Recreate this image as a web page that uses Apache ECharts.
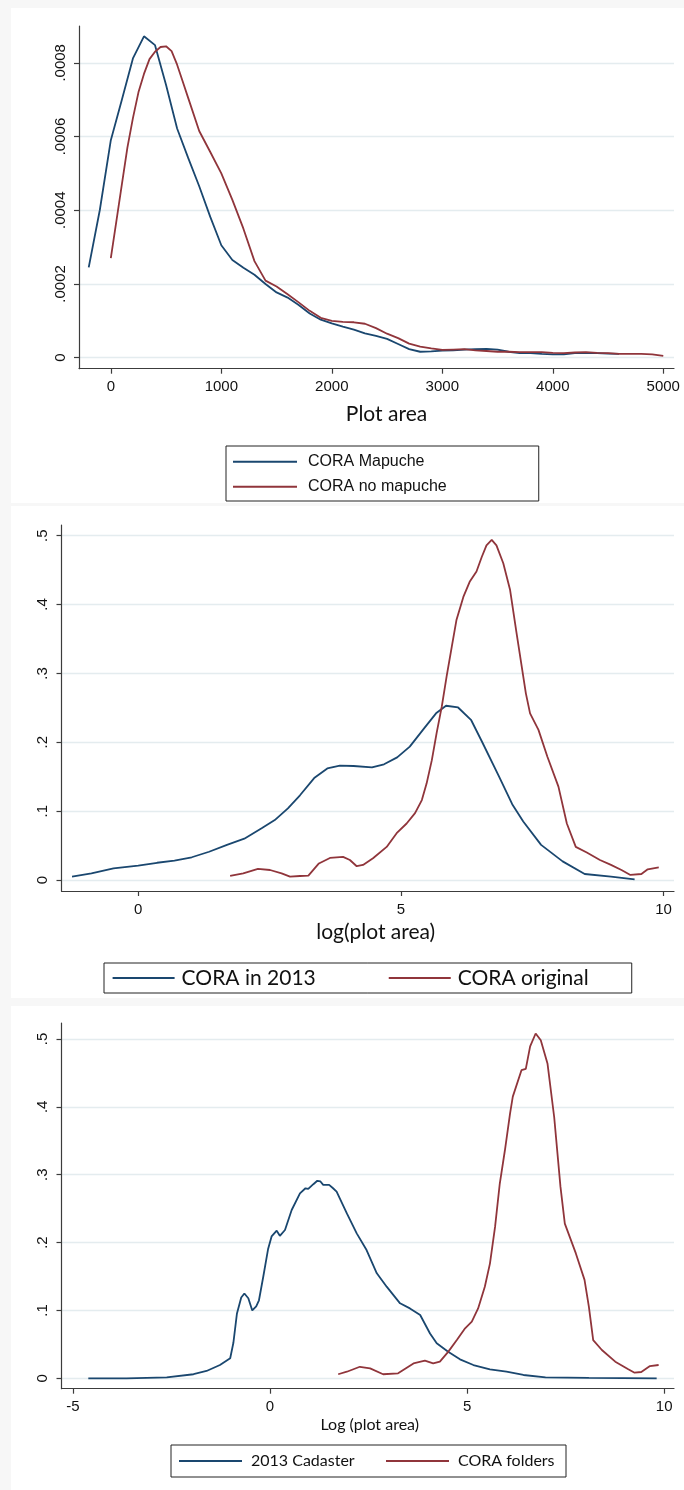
<!DOCTYPE html>
<html>
<head>
<meta charset="utf-8">
<script src="https://cdn.jsdelivr.net/npm/echarts@6/dist/echarts.min.js"></script>
<style>
html, body { margin: 0; padding: 0; background: #f7f7f7; }
#main { width: 684px; height: 1490px; }
</style>
</head>
<body>
<div id="main"></div>
<script>
// panel 1: kernel density of plot area
const coraMapuche = [
	[-200, 0.000245], [-100, 0.00040], [0, 0.000590], [100, 0.000700], [200, 0.000812],
	[300, 0.000872], [400, 0.000848], [500, 0.000740], [600, 0.000622], [700, 0.000542],
	[800, 0.000465], [900, 0.000382], [1000, 0.000305], [1100, 0.000265], [1200, 0.000244],
	[1300, 0.000225], [1400, 0.000200], [1500, 0.000177], [1600, 0.000163], [1700, 0.000143],
	[1800, 0.000120], [1900, 0.000103], [2000, 0.000093], [2100, 0.000084], [2200, 0.000076],
	[2300, 0.000066], [2400, 0.000059], [2500, 0.000051], [2600, 0.000037], [2700, 0.000023],
	[2800, 0.000016], [2900, 0.000017], [3000, 0.000019], [3100, 0.000020], [3200, 0.000022],
	[3300, 0.000023], [3400, 0.000024], [3500, 0.000022], [3600, 0.000016], [3700, 0.000012],
	[3800, 0.000012], [3900, 0.000010], [4000, 0.000009], [4100, 0.000009], [4200, 0.000012],
	[4300, 0.000012], [4400, 0.000012], [4500, 0.000011], [4600, 0.000010]
];
const coraNoMapuche = [
	[0, 0.00027], [50, 0.00037], [100, 0.00047], [150, 0.00057], [200, 0.00065], [250, 0.00072],
	[300, 0.00077], [350, 0.00081], [400, 0.00083], [450, 0.000843], [500, 0.000845], [550, 0.000832],
	[600, 0.000795], [650, 0.00075], [700, 0.000705], [800, 0.000615], [900, 0.000558],
	[1000, 0.0005], [1100, 0.000428], [1200, 0.00035], [1300, 0.000262], [1400, 0.000209],
	[1500, 0.000193], [1600, 0.000172], [1700, 0.00015], [1800, 0.000127], [1900, 0.000108],
	[2000, 0.0001], [2100, 0.000097], [2200, 0.000096], [2300, 0.000092], [2400, 0.00008],
	[2500, 0.000065], [2600, 0.000053], [2700, 0.000038], [2800, 0.00003], [2900, 0.000025],
	[3000, 0.000021], [3100, 0.000022], [3200, 0.000023], [3300, 0.00002], [3400, 0.000018],
	[3500, 0.000016], [3600, 0.000016], [3700, 0.000015], [3800, 0.000015], [3900, 0.000015],
	[4000, 0.000013], [4100, 0.000012], [4200, 0.000014], [4300, 0.000015], [4400, 0.000013],
	[4500, 0.000012], [4600, 0.00001], [4700, 0.00001], [4800, 0.00001], [4900, 0.000009],
	[5000, 0.000005]
];

// panel 2: log(plot area)
const coraIn2013 = [
	[-1.26, 0.005], [-0.89, 0.0097], [-0.47, 0.017], [0, 0.021], [0.36, 0.025], [0.69, 0.028],
	[1.02, 0.033], [1.35, 0.041], [1.69, 0.051], [2.02, 0.06], [2.35, 0.075], [2.6, 0.087],
	[2.85, 0.104], [3.08, 0.123], [3.35, 0.148], [3.6, 0.162], [3.84, 0.166], [4.1, 0.1655],
	[4.45, 0.1636], [4.68, 0.168], [4.93, 0.178], [5.17, 0.1936], [5.42, 0.218], [5.67, 0.242],
	[5.86, 0.253], [6.09, 0.2505], [6.34, 0.232], [6.55, 0.2], [6.87, 0.15], [7.12, 0.11],
	[7.33, 0.085], [7.67, 0.051], [8.08, 0.027], [8.5, 0.0087], [9.0, 0.0048], [9.45, 0.001]
];
const coraOriginal = [
	[1.75, 0.0058], [2.0, 0.0097], [2.28, 0.016], [2.51, 0.0145], [2.73, 0.0097], [2.89, 0.005],
	[3.08, 0.0058], [3.24, 0.0063], [3.44, 0.024], [3.65, 0.032], [3.9, 0.0335], [4.03, 0.029],
	[4.16, 0.02], [4.28, 0.0218], [4.47, 0.0315], [4.73, 0.048], [4.92, 0.068], [5.11, 0.082],
	[5.27, 0.097], [5.4, 0.116], [5.49, 0.14], [5.59, 0.174], [5.68, 0.213], [5.78, 0.252],
	[5.87, 0.295], [5.97, 0.339], [6.06, 0.378], [6.19, 0.411], [6.31, 0.433], [6.44, 0.448],
	[6.54, 0.469], [6.63, 0.486], [6.73, 0.494], [6.82, 0.486], [6.95, 0.46], [7.08, 0.421],
	[7.2, 0.36], [7.38, 0.271], [7.46, 0.242], [7.62, 0.218], [7.79, 0.179], [8.0, 0.1355],
	[8.16, 0.082], [8.33, 0.048], [8.54, 0.04], [8.79, 0.029], [9.0, 0.022], [9.2, 0.0145],
	[9.37, 0.0073], [9.58, 0.0087], [9.7, 0.0155], [9.91, 0.0184]
];

// panel 3: Log (plot area), cadaster vs folders
const cadaster2013 = [
	[-4.61, 0.0], [-3.64, 0.0], [-2.62, 0.0015], [-1.94, 0.006], [-1.61, 0.0108], [-1.27, 0.0196],
	[-1.01, 0.0295], [-0.93, 0.052], [-0.84, 0.095], [-0.73, 0.119], [-0.65, 0.125], [-0.55, 0.118],
	[-0.45, 0.1], [-0.35, 0.106], [-0.28, 0.115], [-0.17, 0.15], [-0.05, 0.19], [0.04, 0.209],
	[0.17, 0.2175], [0.25, 0.21], [0.38, 0.2185], [0.55, 0.248], [0.76, 0.2726], [0.9, 0.28],
	[0.97, 0.279], [1.1, 0.286], [1.2, 0.291], [1.28, 0.29], [1.35, 0.285], [1.5, 0.285],
	[1.6, 0.28], [1.69, 0.275], [1.95, 0.243], [2.2, 0.2136], [2.45, 0.189], [2.71, 0.1547],
	[2.96, 0.135], [3.3, 0.1105], [3.55, 0.103], [3.81, 0.0933], [4.06, 0.066], [4.23, 0.0516],
	[4.52, 0.039], [4.82, 0.028], [5.16, 0.0196], [5.58, 0.0133], [6.0, 0.0097], [6.43, 0.0049],
	[6.99, 0.0015], [8.09, 0.0006], [9.81, 0.0]
];
const coraFolders = [
	[1.73, 0.006], [1.95, 0.0097], [2.28, 0.017], [2.54, 0.0147], [2.87, 0.006], [3.25, 0.0074],
	[3.64, 0.022], [3.93, 0.026], [4.14, 0.022], [4.31, 0.0245], [4.52, 0.039], [4.74, 0.0564],
	[4.95, 0.0737], [5.12, 0.0834], [5.28, 0.103], [5.45, 0.135], [5.58, 0.169], [5.71, 0.223],
	[5.83, 0.287], [5.96, 0.336], [6.09, 0.39], [6.16, 0.415], [6.38, 0.454], [6.49, 0.456],
	[6.6, 0.489], [6.74, 0.508], [6.87, 0.498], [7.04, 0.464], [7.21, 0.385], [7.37, 0.282],
	[7.48, 0.228], [7.76, 0.184], [7.98, 0.145], [8.09, 0.1055], [8.2, 0.0564], [8.42, 0.0417],
	[8.76, 0.0245], [9.09, 0.0133], [9.25, 0.0083], [9.42, 0.0093], [9.64, 0.018], [9.86, 0.0196]
];

// tick values and labels
const p1XTicks = [0, 1000, 2000, 3000, 4000, 5000];
const p1XLabels = ["0", "1000", "2000", "3000", "4000", "5000"];
const p1YTicks = [0, 0.0002, 0.0004, 0.0006, 0.0008];
const p1YLabels = ["0", ".0002", ".0004", ".0006", ".0008"];
const p2XTicks = [0, 5, 10];
const p2XLabels = ["0", "5", "10"];
const p3XTicks = [-5, 0, 5, 10];
const p3XLabels = ["-5", "0", "5", "10"];
const densYTicks = [0, 0.1, 0.2, 0.3, 0.4, 0.5];
const densYLabels = ["0", ".1", ".2", ".3", ".4", ".5"];

const navy = "#1a476f";
const maroon = "#90353b";
const axisColor = "#3c3c3c";
const gridColor = "#e4ecef";
const tickFont = "Liberation Sans, Arial, sans-serif";
const titleFont = "Lato, sans-serif";

function pick(ticks, labels) {
	return function (v) {
		for (var i = 0; i < ticks.length; i++) {
			if (Math.abs(ticks[i] - v) < 1e-9) return labels[i];
		}
		return "";
	};
}

function xAxisOf(idx, min, max, ticks, labels, name, gap, size, shift) {
	return {
		type: "value", gridIndex: idx, min: min, max: max,
		axisLine: { show: true, onZero: false, lineStyle: { color: axisColor, width: 1.2 } },
		axisTick: { show: true, length: 5, customValues: ticks, lineStyle: { color: axisColor, width: 1.2 } },
		axisLabel: { customValues: ticks, formatter: pick(ticks, labels), margin: 11,
			fontFamily: tickFont, fontSize: 15, color: "#111" },
		splitLine: { show: false },
		name: name, nameLocation: "middle", nameGap: gap,
		nameTextStyle: { fontFamily: titleFont, fontSize: size, color: "#111", padding: [0, 0, 0, shift] }
	};
}

function yAxisOf(idx, min, max, ticks, labels) {
	return {
		type: "value", gridIndex: idx, min: min, max: max,
		axisLine: { show: true, onZero: false, lineStyle: { color: axisColor, width: 1.2 } },
		axisTick: { show: true, length: 5, customValues: ticks, lineStyle: { color: axisColor, width: 1.2 } },
		axisLabel: { customValues: ticks, formatter: pick(ticks, labels), rotate: 90, margin: 11,
			fontFamily: tickFont, fontSize: 15, color: "#111" },
		splitLine: { show: true, lineStyle: { color: gridColor, width: 1.3 } }
	};
}

function lineOf(name, data, color, idx) {
	return {
		type: "line", name: name, data: data, xAxisIndex: idx, yAxisIndex: idx,
		showSymbol: false, symbol: "none", smooth: false,
		lineStyle: { color: color, width: 1.8 }, itemStyle: { color: color }
	};
}

var myChart = echarts.init(document.getElementById("main"));

var option = {
	animation: false,
	backgroundColor: "#f7f7f7",
	graphic: [
		{ type: "rect", silent: true, z: -10, shape: { x: 11, y: 8, width: 673, height: 495 }, style: { fill: "#fff" } },
		{ type: "rect", silent: true, z: -10, shape: { x: 11, y: 506, width: 673, height: 492 }, style: { fill: "#fff" } },
		{ type: "rect", silent: true, z: -10, shape: { x: 11, y: 1006, width: 673, height: 484 }, style: { fill: "#fff" } }
	],
	grid: [
		{ left: 79, right: 10, top: 26, height: 342.7, outerBoundsMode: "none" },
		{ left: 61.5, right: 10, top: 525, height: 366, outerBoundsMode: "none" },
		{ left: 61.5, right: 10, top: 1023, height: 365.7, outerBoundsMode: "none" }
	],
	xAxis: [
		xAxisOf(0, -288, 5097, p1XTicks, p1XLabels, "Plot area", 35, 21, 20),
		xAxisOf(1, -1.46, 10.2, p2XTicks, p2XLabels, "log(plot area)", 31, 21, 16),
		xAxisOf(2, -5.29, 10.25, p3XTicks, p3XLabels, "Log (plot area)", 28, 16, 4)
	],
	yAxis: [
		yAxisOf(0, -0.00003, 0.0009, p1YTicks, p1YLabels),
		yAxisOf(1, -0.016, 0.5155, densYTicks, densYLabels),
		yAxisOf(2, -0.0153, 0.5235, densYTicks, densYLabels)
	],
	legend: [
		{
			data: ["CORA Mapuche", "CORA no mapuche"], orient: "vertical", left: 226, top: 446,
			padding: [6.7, 92, 5.3, 7], itemGap: 7, itemWidth: 64, itemHeight: 2, icon: "rect",
			selectedMode: false, borderColor: "#222", borderWidth: 1, borderRadius: 0,
			textStyle: { fontFamily: tickFont, fontSize: 16, lineHeight: 18, color: "#111", padding: [0, 0, 0, 6] }
		},
		{
			data: ["CORA in 2013", "CORA original"], orient: "horizontal", left: 104, top: 963,
			padding: [3, 40, 3, 8.6], itemGap: 73, itemWidth: 62, itemHeight: 2, icon: "rect",
			selectedMode: false, borderColor: "#222", borderWidth: 1, borderRadius: 0,
			textStyle: { fontFamily: titleFont, fontSize: 21, lineHeight: 24, color: "#111", width: 134, padding: [0, 0, 0, 2] }
		},
		{
			data: ["2013 Cadaster", "CORA folders"], orient: "horizontal", left: 171, top: 1445,
			padding: [6, 0, 6, 8], itemGap: 27, itemWidth: 63, itemHeight: 2, icon: "rect",
			selectedMode: false, borderColor: "#222", borderWidth: 1, borderRadius: 0,
			textStyle: { fontFamily: titleFont, fontSize: 16, lineHeight: 20, color: "#111", width: 108, padding: [0, 0, 0, 4] }
		}
	],
	series: [
		lineOf("CORA Mapuche", coraMapuche, navy, 0),
		lineOf("CORA no mapuche", coraNoMapuche, maroon, 0),
		lineOf("CORA in 2013", coraIn2013, navy, 1),
		lineOf("CORA original", coraOriginal, maroon, 1),
		lineOf("2013 Cadaster", cadaster2013, navy, 2),
		lineOf("CORA folders", coraFolders, maroon, 2)
	]
};

myChart.setOption(option);
</script>
</body>
</html>
